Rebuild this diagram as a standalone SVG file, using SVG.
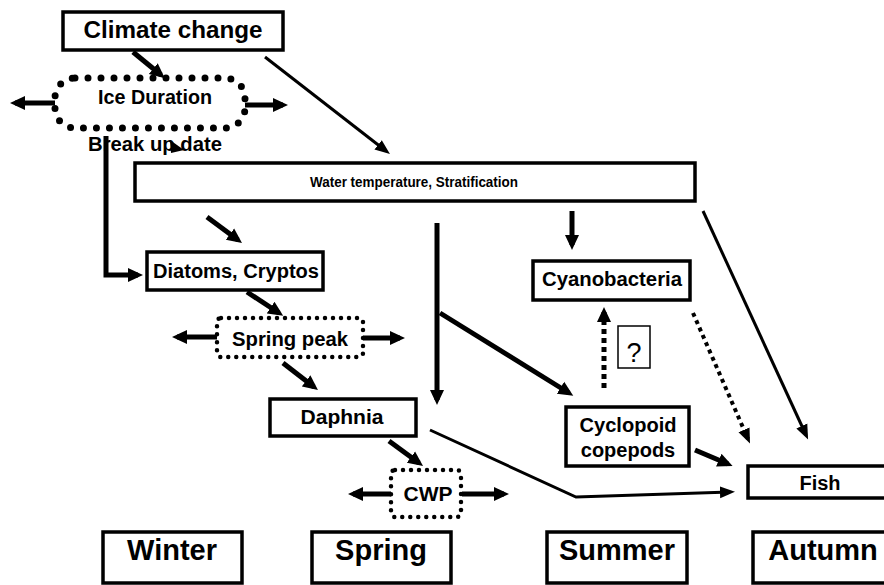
<svg xmlns="http://www.w3.org/2000/svg" width="884" height="585" viewBox="0 0 884 585">
<defs>
<style>
.box{fill:#fff;stroke:#000;stroke-width:3.5}
.dot{fill:none;stroke:#000;stroke-linecap:round}
.t{font-family:"Liberation Sans",Arial,sans-serif;font-weight:bold;fill:#000;text-anchor:middle}
.a{fill:none;stroke:#000;stroke-width:5;marker-end:url(#ah)}
.b{fill:none;stroke:#000;stroke-width:3;marker-end:url(#ah2)}
</style>
<marker id="ah" markerUnits="userSpaceOnUse" markerWidth="16" markerHeight="16" refX="10" refY="8" orient="auto">
<path d="M0,1 L15,8 L0,15 z" fill="#000"/>
</marker>
<marker id="ah2" markerUnits="userSpaceOnUse" markerWidth="16" markerHeight="14" refX="10" refY="7" orient="auto">
<path d="M0,1 L15,7 L0,13 z" fill="#000"/>
</marker>
</defs>
<rect width="884" height="585" fill="#fff"/>

<g id="connectors">
<line class="a" x1="133" y1="52" x2="161" y2="75"/>
<line class="b" x1="265" y1="57" x2="386" y2="151"/>
<line class="a" x1="55" y1="103" x2="15" y2="103"/>
<line class="a" x1="245" y1="105" x2="283" y2="105"/>
<path class="a" d="M106,136 V275 H138"/>
<polygon points="170,140 184,150 171,153" fill="#000"/>
<line class="a" x1="207" y1="217" x2="238" y2="240"/>
<line class="a" x1="247" y1="292" x2="279" y2="313"/>
<line class="a" x1="217" y1="337" x2="177" y2="337"/>
<line class="a" x1="363" y1="338" x2="400" y2="338"/>
<line class="a" x1="283" y1="363" x2="314" y2="387"/>
<line class="a" x1="437" y1="223" x2="437" y2="400"/>
<line class="a" x1="440" y1="313" x2="569" y2="393"/>
<line class="a" x1="572" y1="211" x2="572" y2="245"/>
<line style="fill:none;stroke:#000;stroke-width:5;stroke-dasharray:5 4;marker-end:url(#ah)" x1="604" y1="388" x2="604" y2="312"/>
<line style="fill:none;stroke:#000;stroke-width:4;stroke-dasharray:4 4;marker-end:url(#ah2)" x1="693" y1="313" x2="748" y2="439"/>
<line class="b" x1="703" y1="211" x2="806" y2="435"/>
<line class="a" x1="389" y1="441" x2="419" y2="463"/>
<line class="a" x1="391" y1="494" x2="353" y2="494"/>
<line class="a" x1="462" y1="494" x2="504" y2="494"/>
<path class="b" d="M430,430 L576,497 L730,492"/>
<line class="a" x1="695" y1="450" x2="728" y2="464"/>
</g>

<g id="climate-change">
<rect class="box" x="63" y="12" width="220" height="38"/>
<text class="t" x="173" y="38" font-size="24" textLength="179" lengthAdjust="spacingAndGlyphs">Climate change</text>
</g>

<g id="ice-duration">
<rect class="dot" x="55" y="78" width="190" height="50" rx="20" stroke-width="7" stroke-dasharray="0 13"/>
<text class="t" x="155" y="104" font-size="20" textLength="114" lengthAdjust="spacingAndGlyphs">Ice Duration</text>
</g>

<g id="break-up-date">
<text class="t" x="155" y="151" font-size="20" textLength="134" lengthAdjust="spacingAndGlyphs">Break up date</text>
</g>

<g id="water-temperature">
<rect class="box" x="135" y="163" width="560" height="38"/>
<text class="t" x="414" y="187" font-size="14" textLength="208" lengthAdjust="spacingAndGlyphs">Water temperature, Stratification</text>
</g>

<g id="diatoms">
<rect class="box" x="147" y="252" width="176" height="38"/>
<text class="t" x="236" y="278" font-size="20" textLength="166" lengthAdjust="spacingAndGlyphs">Diatoms, Cryptos</text>
</g>

<g id="spring-peak">
<rect class="dot" x="217" y="318" width="146" height="39" rx="4" stroke-width="4.5" stroke-dasharray="0 8"/>
<text class="t" x="290" y="346" font-size="20" textLength="116" lengthAdjust="spacingAndGlyphs">Spring peak</text>
</g>

<g id="daphnia">
<rect class="box" x="270" y="399" width="146" height="37"/>
<text class="t" x="342" y="424" font-size="20" textLength="83" lengthAdjust="spacingAndGlyphs">Daphnia</text>
</g>

<g id="cwp">
<rect class="dot" x="391" y="470" width="70" height="47" rx="4" stroke-width="4.5" stroke-dasharray="0 8"/>
<text class="t" x="428" y="501" font-size="21">CWP</text>
</g>

<g id="cyanobacteria">
<rect class="box" x="533" y="261" width="157" height="39"/>
<text class="t" x="612" y="286" font-size="20" textLength="140" lengthAdjust="spacingAndGlyphs">Cyanobacteria</text>
</g>

<g id="question">
<rect x="618" y="326" width="32" height="42" fill="#fff" stroke="#000" stroke-width="1.5"/>
<text x="634" y="362" font-size="27" font-family="Liberation Sans,Arial,sans-serif" text-anchor="middle" fill="#000">?</text>
</g>

<g id="cyclopoid">
<rect class="box" x="566" y="407" width="123" height="59"/>
<text class="t" x="628" y="432" font-size="20" textLength="97" lengthAdjust="spacingAndGlyphs">Cyclopoid</text>
<text class="t" x="628" y="457" font-size="20">copepods</text>
</g>

<g id="fish">
<rect class="box" x="748" y="466" width="150" height="32"/>
<text class="t" x="820" y="490" font-size="20">Fish</text>
</g>

<g id="winter">
<rect class="box" x="103" y="532" width="139" height="51"/>
<text class="t" x="172" y="560" font-size="29">Winter</text>
</g>
<g id="spring">
<rect class="box" x="312" y="532" width="139" height="51"/>
<text class="t" x="381" y="560" font-size="29">Spring</text>
</g>
<g id="summer">
<rect class="box" x="547" y="532" width="140" height="51"/>
<text class="t" x="617" y="560" font-size="29">Summer</text>
</g>
<g id="autumn">
<rect class="box" x="753" y="532" width="150" height="51"/>
<text class="t" x="823" y="560" font-size="29">Autumn</text>
</g>
</svg>
